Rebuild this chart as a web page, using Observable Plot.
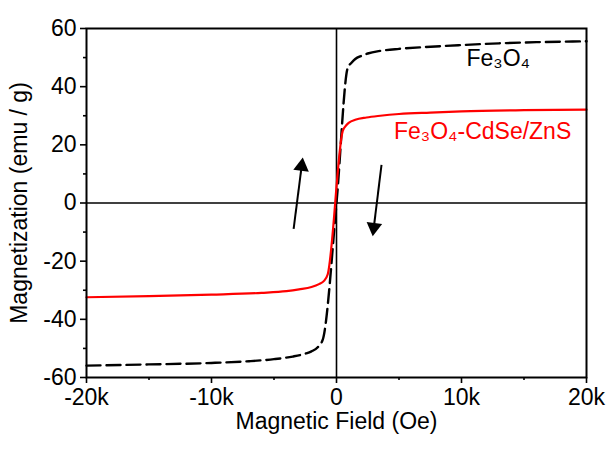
<!DOCTYPE html>
<html>
<head>
<meta charset="utf-8">
<script src="https://cdn.jsdelivr.net/npm/d3@7"></script>
<script src="https://cdn.jsdelivr.net/npm/@observablehq/plot@0.6"></script>
<style>
  html, body { margin: 0; padding: 0; background: white; }
</style>
</head>
<body>
<div id="chart"></div>
<script>
// ---- data ----
const feField = [-20000, -15000, -10000, -7000, -5000, -3500, -2500, -2000, -1500, -1100, 0, 900, 1200, 1500, 2000, 2500, 3500, 5000, 7000, 10000, 13000, 16000, 20000];
const feMag   = [-55.9, -55.5, -55.0, -54.4, -53.7, -52.8, -51.8, -51.0, -49.6, -47.0, 0, 46.5, 48.2, 49.5, 50.6, 51.4, 52.3, 53.0, 53.6, 54.3, 54.9, 55.3, 55.6];

const qdField = [-20000, -15000, -10000, -6000, -4000, -3000, -2000, -1400, -1000, -700, 500, 800, 1000, 1500, 2400, 3500, 5000, 7500, 10000, 15000, 20000];
const qdMag   = [-32.4, -32.0, -31.5, -30.9, -30.3, -29.7, -28.9, -27.9, -26.8, -24.5, 24.8, 26.8, 27.6, 28.6, 29.4, 30.0, 30.6, 31.1, 31.5, 31.9, 32.1];

const xMajor = [-20000, -10000, 0, 10000, 20000];
const xMinor = [-15000, -5000, 5000, 15000];
const yMajor = [-60, -40, -20, 0, 20, 40, 60];
const yMinor = [-50, -30, -10, 10, 30, 50];

const seriesLabels = ["Fe\u2083O\u2084", "Fe\u2083O\u2084-CdSe/ZnS"];
const labelX = [10400, 4600];
const labelY = [49.8, 24.6];
const labelColors = ["black", "#ff0000"];

// sweep-direction arrows: start and tip in data units
const arrowStartX = [-3430, 3600];
const arrowStartY = [-8.9, 13.1];
const arrowTipX = [-2700, 2900];
const arrowTipY = [15.6, -11.4];

// ---- layout ----
const W = 610, H = 466, ML = 86, MT = 28, MR = 24, MB = 89;
const kx = (W - ML - MR) / 40000;   // px per Oe
const ky = (H - MT - MB) / 120;     // px per emu/g
const headR = 5.8, headOffset = 8.8;

const fe = feField.map((x, i) => ({x, y: feMag[i]}));
const qd = qdField.map((x, i) => ({x, y: qdMag[i]}));
const labels = seriesLabels.map((t, i) => ({t, x: labelX[i], y: labelY[i], c: labelColors[i]}));
const arrows = arrowStartX.map((x1, i) => {
  const x2 = arrowTipX[i], y1 = arrowStartY[i], y2 = arrowTipY[i];
  const dxp = (x2 - x1) * kx, dyp = -(y2 - y1) * ky;
  const len = Math.hypot(dxp, dyp);
  const ux = dxp / len, uy = dyp / len;
  const rot = Math.atan2(ux, -uy) * 180 / Math.PI;
  const hx = x2 - ux * headOffset / kx;
  const hy = y2 + uy * headOffset / ky;
  return {x1, y1, x2, y2, hx, hy, rot};
});

const fmtX = d => d === 0 ? "0" : (d / 1000) + "k";
const fmtY = d => String(d);
const noLabel = () => "";

const plot = Plot.plot({
  width: W, height: H,
  marginLeft: ML, marginTop: MT, marginRight: MR, marginBottom: MB,
  style: {fontFamily: "'Liberation Sans', Arial, sans-serif", fontSize: "23px", background: "white", color: "black", overflow: "visible"},
  x: {domain: [-20000, 20000]},
  y: {domain: [-60, 60]},
  marks: [
    Plot.ruleX([0], {stroke: "black", strokeWidth: 1.6}),
    Plot.ruleY([0], {stroke: "black", strokeWidth: 1.6}),
    Plot.axisX({ticks: xMinor, tickSize: 3, tickFormat: noLabel, label: null, strokeWidth: 1.6}),
    Plot.axisX({ticks: xMajor, tickSize: 6, tickPadding: 5, tickFormat: fmtX, label: "Magnetic Field (Oe)", labelAnchor: "center", labelArrow: "none", labelOffset: 51, strokeWidth: 1.6, fontSize: 23}),
    Plot.axisY({ticks: yMinor, tickSize: 3, tickFormat: noLabel, label: null, strokeWidth: 1.6}),
    Plot.axisY({ticks: yMajor, tickSize: 6, tickPadding: 4, tickFormat: fmtY, label: "Magnetization (emu / g)", labelAnchor: "center", labelArrow: "none", labelOffset: 76, strokeWidth: 1.6, fontSize: 23}),
    Plot.line(fe, {x: "x", y: "y", stroke: "black", strokeWidth: 2.4, strokeDasharray: "14,6", curve: "monotone-x"}),
    Plot.line(qd, {x: "x", y: "y", stroke: "#ff0000", strokeWidth: 2.2, curve: "monotone-x"}),
    Plot.link(arrows, {x1: "x1", y1: "y1", x2: "hx", y2: "hy", stroke: "black", strokeWidth: 2}),
    Plot.dot(arrows, {x: "hx", y: "hy", r: headR, symbol: "triangle", rotate: "rot", fill: "black", stroke: "none"}),
    Plot.text(labels, {x: "x", y: "y", text: "t", fill: "c", fontSize: 23, textAnchor: "start"}),
    Plot.frame({stroke: "black", strokeWidth: 2})
  ]
});
document.getElementById("chart").appendChild(plot);
</script>
</body>
</html>
